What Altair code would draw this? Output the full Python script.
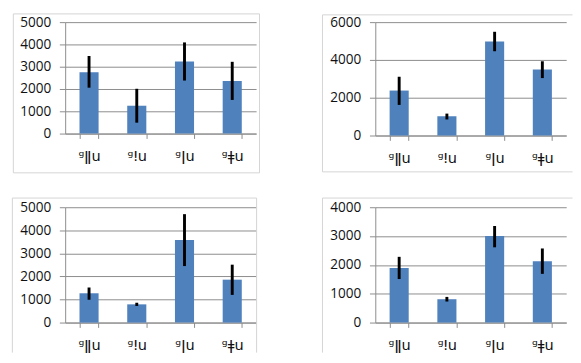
import altair as alt
import pandas as pd

cats = ["ᵍǁu", "ᵍǃu", "ᵍǀu", "ᵍǂu"]

# panel 1
p1_val = [2750, 1250, 3230, 2360]
p1_lo = [2060, 490, 2380, 1510]
p1_hi = [3480, 2010, 4090, 3220]
p1_ticks = [0, 1000, 2000, 3000, 4000, 5000]
# panel 2
p2_val = [2380, 1020, 4980, 3500]
p2_lo = [1620, 850, 4460, 3040]
p2_hi = [3110, 1160, 5490, 3930]
p2_ticks = [0, 2000, 4000, 6000]
# panel 3
p3_val = [1270, 790, 3580, 1860]
p3_lo = [990, 720, 2450, 1200]
p3_hi = [1520, 860, 4700, 2510]
p3_ticks = [0, 1000, 2000, 3000, 4000, 5000]
# panel 4
p4_val = [1890, 810, 3000, 2130]
p4_lo = [1510, 730, 2610, 1690]
p4_hi = [2280, 890, 3350, 2570]
p4_ticks = [0, 1000, 2000, 3000, 4000]

FONT = "Open Sans"
XFONT = "DejaVu Sans"
GRID = "#8a8a8a"
FRAME = "#d4d4d4"
BAR = "#4F81BD"


def panel(val, lo, hi, ticks, W, H, L, T, R, B, right_line=True, bottom_line=True):
    df = pd.DataFrame({"cat": cats, "val": val, "lo": lo, "hi": hi})
    xscale = alt.Scale(paddingInner=0.6, paddingOuter=0.3)
    xaxis = alt.Axis(labelAngle=0, tickBand="extent", tickSize=5, tickColor=GRID,
                     domainColor=GRID, labelFont=XFONT, labelFontSize=15,
                     labelColor="#111111", labelPadding=11, grid=False)
    yscale = alt.Scale(domain=[ticks[0], ticks[-1]], nice=False)
    yaxis = alt.Axis(values=ticks, tickSize=6, tickColor=GRID, domainColor=GRID,
                     gridColor=GRID, gridOpacity=1, labelFont=FONT, labelFontSize=14,
                     labelColor="#111111", labelPadding=9, format="d", labelOverlap=False)
    base = alt.Chart(df)
    bars = base.mark_bar(color=BAR).encode(
        x=alt.X("cat:N", sort=cats, title=None, scale=xscale, axis=xaxis),
        y=alt.Y("val:Q", title=None, scale=yscale, axis=yaxis))
    err = base.mark_rule(color="black", strokeWidth=3).encode(
        x=alt.X("cat:N", sort=cats, title=None, scale=xscale, axis=xaxis),
        y=alt.Y("lo:Q", title=None, scale=yscale, axis=yaxis), y2="hi:Q")
    one = pd.DataFrame({"k": [0]})
    fr = alt.Chart(one).mark_rule(color=FRAME, strokeWidth=1)
    layers = [
        fr.encode(x=alt.value(L), x2=alt.value(R), y=alt.value(T)),
        fr.encode(x=alt.value(L), y=alt.value(T), y2=alt.value(B)),
    ]
    if right_line:
        layers.append(fr.encode(x=alt.value(R), y=alt.value(T), y2=alt.value(B)))
    if bottom_line:
        layers.append(fr.encode(x=alt.value(L), x2=alt.value(R), y=alt.value(B)))
    return alt.layer(*layers, bars, err).properties(width=W, height=H)


c1 = panel(p1_val, p1_lo, p1_hi, p1_ticks, 197, 115, -53.5, -8.5, 200.5, 155.5)
c2 = panel(p2_val, p2_lo, p2_hi, p2_ticks, 197, 117, -54.5, -7.5, 203.5, 154.5, right_line=False)
c3 = panel(p3_val, p3_lo, p3_hi, p3_ticks, 197, 119, -54.5, -9.5, 197.5, 150, bottom_line=False)
c4 = panel(p4_val, p4_lo, p4_hi, p4_ticks, 197, 119, -54.5, -9.5, 203.5, 150, right_line=False, bottom_line=False)

chart = alt.concat(c1, c2, c3, c4, columns=2, spacing={"row": 25, "column": 64}, align="each",
                   padding={"left": 4, "top": 0, "right": 0, "bottom": 0},
                   background="white").configure_view(strokeWidth=0)

chart.save("out.html", embed_options={"renderer": "svg", "actions": False})
